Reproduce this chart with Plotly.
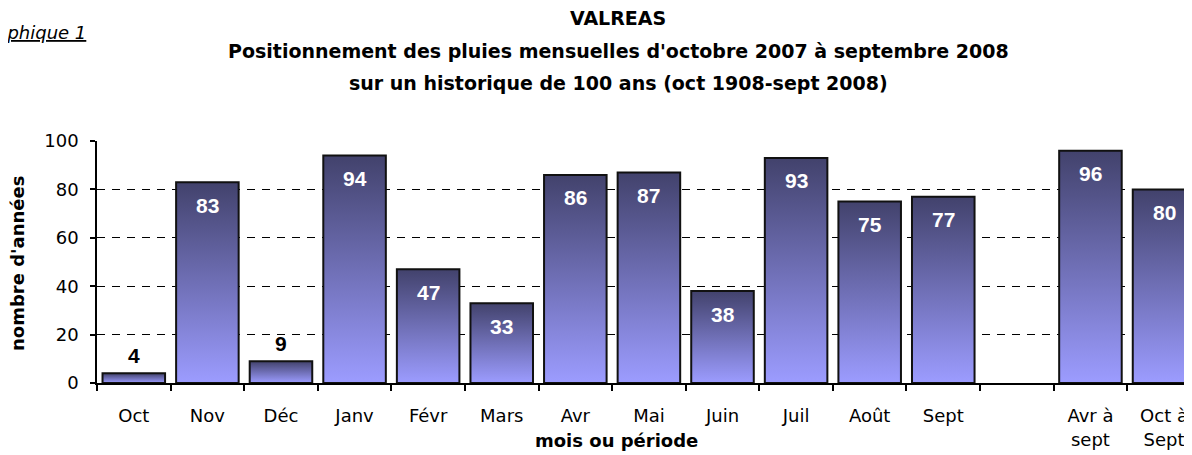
import plotly.graph_objects as go

# ---- data ----
categories = ["Oct", "Nov", "Déc", "Janv", "Févr", "Mars", "Avr", "Mai", "Juin",
              "Juil", "Août", "Sept", "", "Avr à<br>sept", "Oct à<br>Sept"]
values = [4, 83, 9, 94, 47, 33, 86, 87, 38, 93, 75, 77, None, 96, 80]
y_ticks = [0, 20, 40, 60, 80, 100]

title_lines = ["VALREAS",
               "Positionnement des pluies mensuelles d'octobre 2007 à septembre 2008",
               "sur un historique de 100 ans (oct 1908-sept 2008)"]

# ---- style ----
FONT = "DejaVu Sans, Arial, sans-serif"
LABEL_FONT = "Liberation Sans, Arial, sans-serif"
BAR_W = 0.85
TOP_COL = "#42426C"
BOT_COL = "#9C9CFF"
OFF = 8  # page body margin
W, H = 1192 - OFF, 455 - OFF
ML, MR, MT, MB = 97 - OFF, 0, 141 - OFF, 72
PW = W - ML - MR
PH = H - MT - MB
XR = [-0.5, 14.38]


def px_x(p):
    return (p - OFF - ML) / PW


def px_y(p):
    return (H - MB - (p - OFF)) / PH


positions = list(range(len(categories)))

fig = go.Figure()

# gradient fills (main axes)
for pos, v in zip(positions, values):
    if v is None:
        continue
    x0, x1 = pos - BAR_W / 2, pos + BAR_W / 2
    fig.add_trace(go.Scatter(
        x=[x0, x0, x1, x1, x0], y=[0, v, v, 0, 0],
        fill="toself", mode="lines",
        line=dict(width=0, color="rgba(0,0,0,0)"),
        fillgradient=dict(type="vertical",
                          colorscale=[[0, BOT_COL], [1, TOP_COL]]),
        hoverinfo="skip", showlegend=False, xaxis="x", yaxis="y"))

# bar outlines (overlay axes, drawn on top)
fig.add_trace(go.Bar(
    x=positions, y=values, width=BAR_W,
    marker=dict(color="rgba(0,0,0,0)", line=dict(color="#111111", width=2)),
    xaxis="x2", yaxis="y2", showlegend=False, hoverinfo="y"))

annotations = []
for pos, v in zip(positions, values):
    if v is None:
        continue
    inside = v >= 20
    annotations.append(dict(x=pos, y=v, xref="x", yref="y", text=f"<b>{v}</b>",
                            showarrow=False, yshift=-23 if inside else 18,
                            font=dict(family=LABEL_FONT, size=21,
                                      color="white" if inside else "black")))

title_y = [18, 51, 83]
for line, yp in zip(title_lines, title_y):
    annotations.append(dict(x=px_x(618), y=px_y(yp), xref="paper", yref="paper",
                            text=f"<b>{line}</b>", showarrow=False,
                            xanchor="center", yanchor="middle",
                            font=dict(family=FONT, size=19, color="black")))

annotations.append(dict(x=px_x(88), y=px_y(32), xref="paper", yref="paper",
                        text="<i><u>Graphique 1</u></i>", showarrow=False,
                        xanchor="right", yanchor="middle",
                        font=dict(family=FONT, size=18, color="black")))

annotations.append(dict(x=px_x(616), y=px_y(440), xref="paper", yref="paper",
                        text="<b>mois ou période</b>", showarrow=False,
                        xanchor="center", yanchor="middle",
                        font=dict(family=FONT, size=18, color="black")))

annotations.append(dict(x=px_x(17), y=px_y(264), xref="paper", yref="paper",
                        text="<b>nombre d'années</b>", showarrow=False,
                        textangle=-90, xanchor="center", yanchor="middle",
                        font=dict(family=FONT, size=18, color="black")))

fig.update_layout(
    width=W, height=H,
    margin=dict(l=ML, r=MR, t=MT, b=MB, pad=0),
    paper_bgcolor="white", plot_bgcolor="white",
    showlegend=False,
    font=dict(family=FONT, size=18, color="black"),
    annotations=annotations,
    xaxis=dict(range=XR, tickmode="array", tickvals=positions, ticktext=categories,
               ticks="", showgrid=False, zeroline=False,
               showline=True, linecolor="black", linewidth=1.5,
               ticklabelstandoff=16,
               tickfont=dict(family=FONT, size=18, color="black"),
               minor=dict(tickmode="linear", tick0=-0.5, dtick=1, ticks="outside",
                          ticklen=6, tickcolor="black", tickwidth=1.5, showgrid=False)),
    yaxis=dict(range=[0, 100], tickmode="array", tickvals=y_ticks,
               ticks="outside", ticklen=5, tickcolor="black", tickwidth=1.5,
               showline=True, linecolor="black", linewidth=1.5,
               showgrid=True, gridcolor="black", gridwidth=1, griddash="8px,7px",
               zeroline=False, ticklabelstandoff=8,
               tickfont=dict(family=FONT, size=18, color="black")),
    xaxis2=dict(range=XR, overlaying="x", visible=False),
    yaxis2=dict(range=[0, 100], overlaying="y", visible=False),
)

fig.write_html("out.html")
